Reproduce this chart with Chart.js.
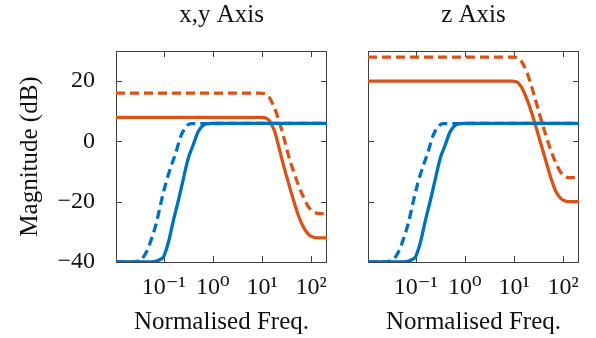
<!DOCTYPE html>
<html>
<head>
<meta charset="utf-8">
<script src="https://cdn.jsdelivr.net/npm/chart.js@4.4.1/dist/chart.umd.min.js"></script>
<style>
  body { margin: 0; background: #fff; }
  #wrap { position: relative; width: 596px; height: 338px; }
  #xyChart { position: absolute; left: 0; top: 0; }
  #zChart { position: absolute; left: 340px; top: 0; }
</style>
</head>
<body>
<div id="wrap">
  <canvas id="xyChart" width="340" height="338"></canvas>
  <canvas id="zChart" width="256" height="338"></canvas>
</div>
<script>
// values (frequency normalised, magnitude in dB)
var xTicks = [0.1, 1, 10, 100];
var xTickLabels = ["10\u207B\u00B9", "10\u2070", "10\u00B9", "10\u00B2"];
var yTicks = [-40, -20, 0, 20];

var freqBlueSolid = [0.0107, 0.05, 0.063, 0.079, 0.1, 0.112, 0.126, 0.158, 0.2, 0.251, 0.316, 0.398, 0.501, 0.631, 0.794, 1, 210];
var magBlueSolid  = [-40, -40, -39.9, -39.4, -38.2, -36, -33.2, -26.1, -19.4, -12.4, -5.6, -1.2, 3.2, 5.3, 5.9, 6, 6];

var freqBlueDash = [0.0107, 0.022, 0.028, 0.035, 0.045, 0.056, 0.071, 0.089, 0.112, 0.141, 0.178, 0.224, 0.282, 0.355, 210];
var magBlueDash  = [-40, -40, -39.8, -39.2, -36.5, -32.5, -27, -20, -13.5, -8.3, -3.5, 1.8, 4.8, 5.9, 6];

var freqRed = [0.0107, 8.9, 11.2, 14.1, 17.8, 22.4, 28.2, 35.5, 44.7, 56.2, 70.8, 89.1, 112, 141, 210];
var magRedSolidXY = [8, 8, 7.9, 6.9, 3.6, -2.4, -8.7, -14.5, -20, -25, -28.6, -30.9, -31.8, -32, -32];
var magRedDashXY  = [16, 16, 15.9, 14.6, 11.2, 6.6, 0.9, -5.3, -10.4, -14.8, -18.7, -21.8, -23.4, -23.9, -24];
var magRedSolidZ  = [20, 20, 19.8, 18.1, 14.5, 9.9, 4.6, -1, -6.6, -12.1, -16.5, -18.9, -19.8, -20, -20];
var magRedDashZ   = [28, 28, 27.9, 26.6, 23.4, 18.6, 13, 7.3, 1.9, -2.9, -7.1, -10.2, -11.7, -12, -12];

var blue = "#0072BD";
var red = "#D95319";
var serif = "'Liberation Serif', 'DejaVu Serif', serif";

function pts(xs, ys) {
  return xs.map(function (x, i) { return { x: x, y: ys[i] }; });
}

function sets(redSolid, redDash) {
  // blue first so it is drawn on top, like the original
  return [
    { data: pts(freqBlueSolid, magBlueSolid), borderColor: blue },
    { data: pts(freqBlueDash, magBlueDash), borderColor: blue, borderDash: [9, 5] },
    { data: pts(freqRed, redSolid), borderColor: red },
    { data: pts(freqRed, redDash), borderColor: red, borderDash: [9, 5] }
  ];
}

// box round the plot, inward ticks on all four sides, title above
var frame = {
  id: "frame",
  beforeDatasetsDraw: function (chart) {
    var ctx = chart.ctx, a = chart.chartArea;
    var x = chart.scales.x, y = chart.scales.y;
    ctx.save();
    ctx.strokeStyle = "#404040";
    ctx.lineWidth = 1;
    ctx.beginPath();
    x.ticks.forEach(function (t) {
      var px = Math.round(x.getPixelForValue(t.value)) + 0.5;
      ctx.moveTo(px, a.bottom); ctx.lineTo(px, a.bottom - 6);
      ctx.moveTo(px, a.top); ctx.lineTo(px, a.top + 6);
    });
    y.ticks.forEach(function (t) {
      var py = Math.round(y.getPixelForValue(t.value)) + 0.5;
      ctx.moveTo(a.left, py); ctx.lineTo(a.left + 6, py);
      ctx.moveTo(a.right, py); ctx.lineTo(a.right - 6, py);
    });
    ctx.stroke();
    ctx.strokeRect(Math.round(a.left) + 0.5, Math.round(a.top) + 0.5,
                   Math.round(a.right - a.left) - 1, Math.round(a.bottom - a.top));
    ctx.restore();
  },
  afterDraw: function (chart, args, opts) {
    var ctx = chart.ctx, a = chart.chartArea;
    ctx.save();
    ctx.fillStyle = "#111";
    ctx.font = "25px " + serif;
    ctx.textAlign = "center";
    ctx.textBaseline = "alphabetic";
    ctx.fillText(opts.text, (a.left + a.right) / 2, 22);
    ctx.restore();
  }
};

function makeChart(id, datasets, title, showYLabels, yWidth, padRight) {
  return new Chart(document.getElementById(id), {
    type: "line",
    data: { datasets: datasets },
    plugins: [frame],
    options: {
      responsive: false,
      animation: false,
      layout: { padding: { top: 51, right: padRight, left: 0, bottom: 0 } },
      plugins: {
        legend: { display: false },
        tooltip: { enabled: false },
        frame: { text: title }
      },
      elements: {
        point: { radius: 0 },
        line: { borderWidth: 3.3, cubicInterpolationMode: "monotone", fill: false }
      },
      scales: {
        x: {
          type: "logarithmic",
          min: 0.0107,
          max: 210,
          grid: { display: false },
          border: { display: false },
          afterBuildTicks: function (s) { s.ticks = xTicks.map(function (v) { return { value: v }; }); },
          afterFit: function (s) { s.height = 76; },
          ticks: {
            autoSkip: false,
            maxRotation: 0,
            padding: 3,
            color: "#111",
            font: { family: serif, size: 24 },
            callback: function (v, i) { return xTickLabels[i]; }
          },
          title: {
            display: true,
            text: "Normalised Freq.",
            color: "#111",
            font: { family: serif, size: 25 },
            padding: { top: 0, bottom: 1 }
          }
        },
        y: {
          min: -40,
          max: 30,
          grid: { display: false },
          border: { display: false },
          afterBuildTicks: function (s) { s.ticks = yTicks.map(function (v) { return { value: v }; }); },
          afterFit: function (s) { s.width = yWidth; },
          ticks: {
            display: showYLabels,
            padding: 13,
            color: "#111",
            font: { family: serif, size: 24 },
            callback: function (v) { return v < 0 ? "\u2212" + Math.abs(v) : String(v); }
          },
          title: {
            display: showYLabels,
            text: "Magnitude (dB)",
            color: "#111",
            font: { family: serif, size: 25 },
            padding: { top: 15, bottom: 0 }
          }
        }
      }
    }
  });
}

makeChart("xyChart", sets(magRedSolidXY, magRedDashXY), "x,y Axis", true, 116, 13);
makeChart("zChart", sets(magRedSolidZ, magRedDashZ), "z Axis", false, 28, 17);
</script>
</body>
</html>
